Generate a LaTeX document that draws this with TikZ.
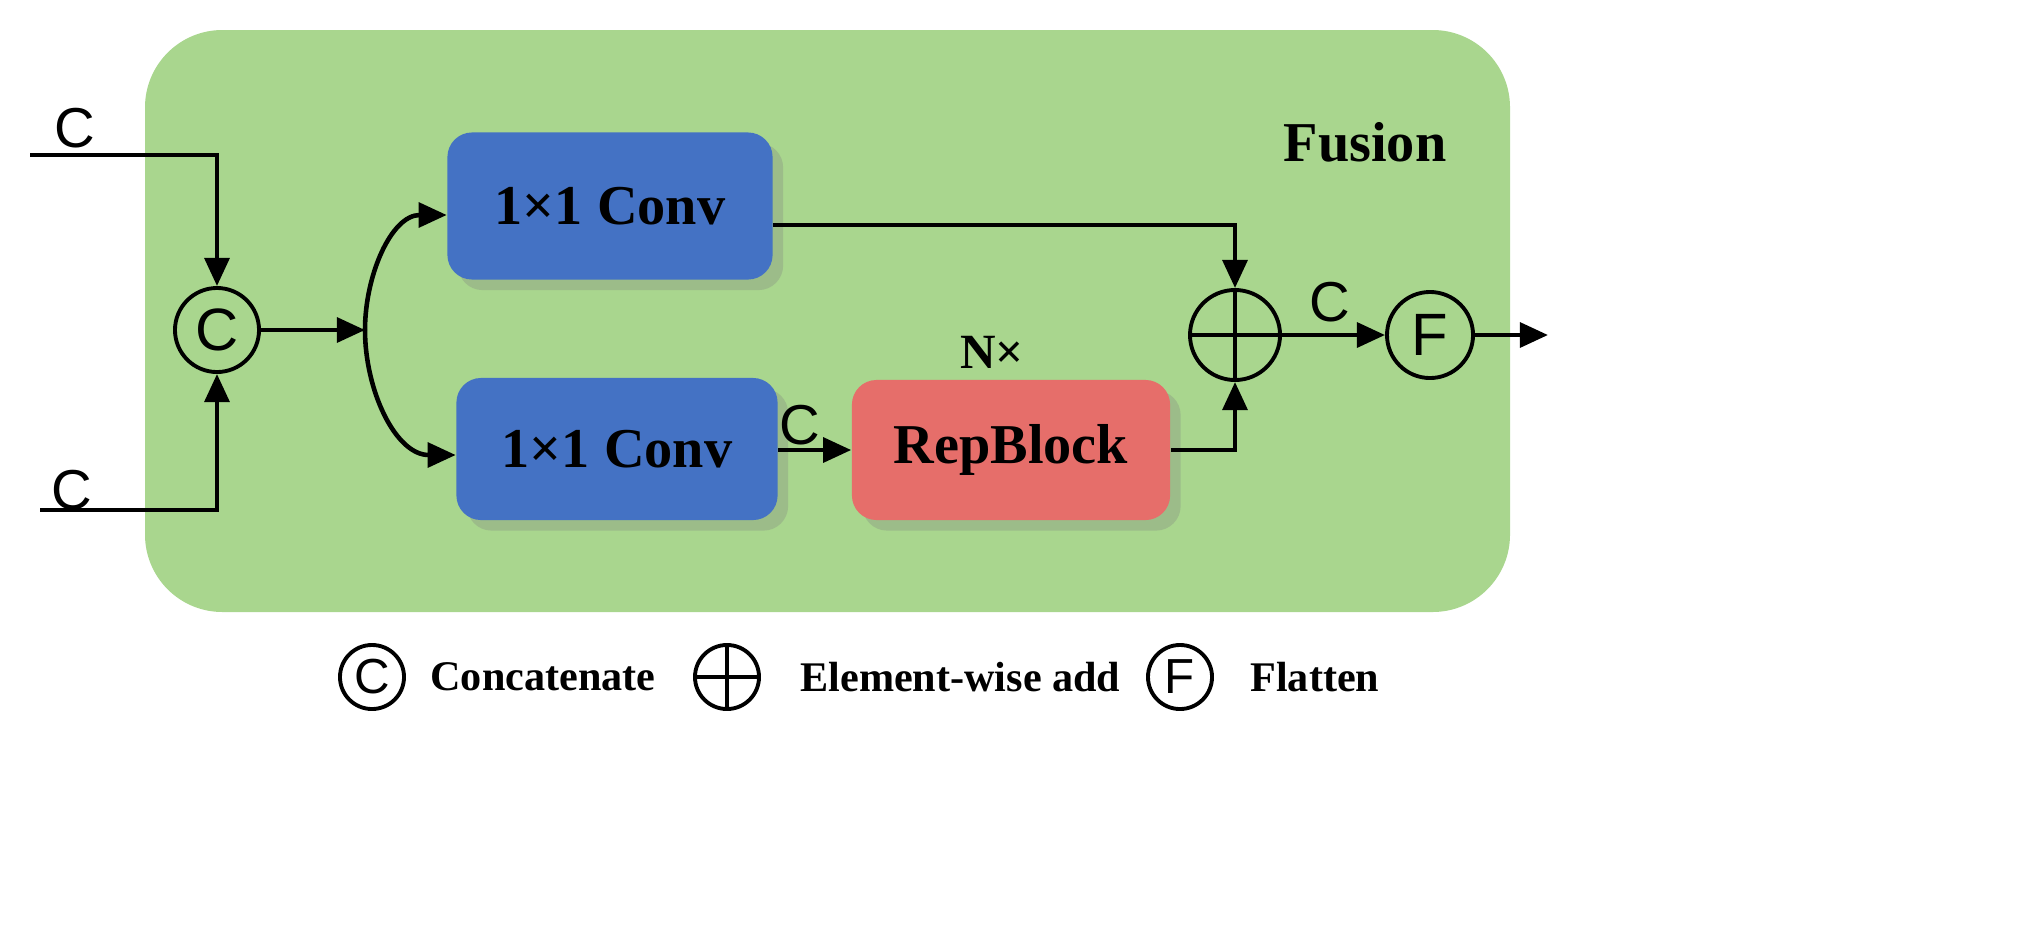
\documentclass[tikz,border=0pt]{standalone}
\usepackage{fontspec}
\setmainfont{Liberation Serif}
\newfontfamily\sansf{Liberation Sans}
\usetikzlibrary{arrows.meta,shadows}
\definecolor{bggreen}{RGB}{169,214,142}
\definecolor{convblue}{RGB}{68,114,196}
\definecolor{repred}{RGB}{230,110,106}
\begin{document}
\begin{tikzpicture}[x=0.01cm,y=-0.01cm,
  box/.style={rounded corners=7pt,draw=none,font=\fontsize{16}{18}\selectfont\bfseries,
    drop shadow={shadow xshift=3pt,shadow yshift=-3pt,opacity=0.3}},
  op/.style={circle,draw,line width=1.1pt,inner sep=0pt,font=\sansf\fontsize{17}{17}\selectfont},
  lop/.style={circle,draw,line width=1.1pt,inner sep=0pt,minimum size=0.64cm,font=\sansf\fontsize{14}{14}\selectfont},
  ln/.style={line width=1.3pt},
  ar/.style={ln,-{Triangle[length=8pt,width=7pt]}},
  lab/.style={font=\sansf\fontsize{16}{16}\selectfont},
  leg/.style={font=\fontsize{12}{14}\selectfont\bfseries,anchor=west}]
\useasboundingbox (0,0) rectangle (2019,933);
\fill[rounded corners=22pt,fill=bggreen] (145,30) rectangle (1510,612);
\node[box,fill=convblue,minimum width=3.25cm,minimum height=1.47cm] (c1) at (610,206) {1×1 Conv};
\node[box,fill=convblue,minimum width=3.21cm,minimum height=1.42cm] (c2) at (617,449) {1×1 Conv};
\node[box,fill=repred,minimum width=3.18cm,minimum height=1.40cm] (rb) at (1011,450) {RepBlock};
\node[op,minimum size=0.84cm] (cat) at (217,330) {C};
\node[op,minimum size=0.9cm] (add) at (1235,335) {};
\draw[line width=1.1pt] (add.north)--(add.south) (add.west)--(add.east);
\node[op,minimum size=0.86cm] (fl) at (1430,335) {F};
\node[font=\fontsize{16}{16}\selectfont\bfseries] (fu) at (1365,142) {Fusion};
\node[font=\fontsize{14}{14}\selectfont\bfseries] (nx) at (992,352) {N×};
\node[lab] (l1) at (75,128) {C};
\node[lab] (l2) at (72,490) {C};
\coordinate (i1) at (30,155);
\coordinate (i2) at (40,510);
\draw[ar] (i1) -- (cat.north |- i1) -- (cat.north);
\draw[ar] (i2) -- (cat.south |- i2) -- (cat.south);
\coordinate (sp) at (365,330);
\draw[ar] (cat.east) -- (sp);
\draw[ar] (sp) to[out=90,in=180] (c1.west |- 0,215);
\draw[ar] (sp) to[out=-90,in=180] (c2.west |- 0,455);
\draw[ar] (c1.east |- 0,225) -- (add.north |- 0,225) -- (add.north);
\draw[ar] (c2.east |- 0,450) -- (rb.west |- 0,450);
\node[lab] at (800,425) {C};
\draw[ar] (rb.east |- 0,450) -- (add.south |- 0,450) -- (add.south);
\draw[ar] (add.east) -- (fl.west);
\node[lab] at (1330,302) {C};
\coordinate (out) at (1548,335);
\draw[ar] (fl.east) -- (out);
\node[lop] (lc) at (372,677) {C};
\node[leg] at (418,677) {Concatenate};
\node[lop] (la) at (727,677) {};
\draw[line width=1.1pt] (la.north)--(la.south) (la.west)--(la.east);
\node[leg] at (788,677) {Element-wise add};
\node[lop] (lf) at (1180,677) {F};
\node[leg] at (1238,677) {Flatten};
\end{tikzpicture}
\end{document}
